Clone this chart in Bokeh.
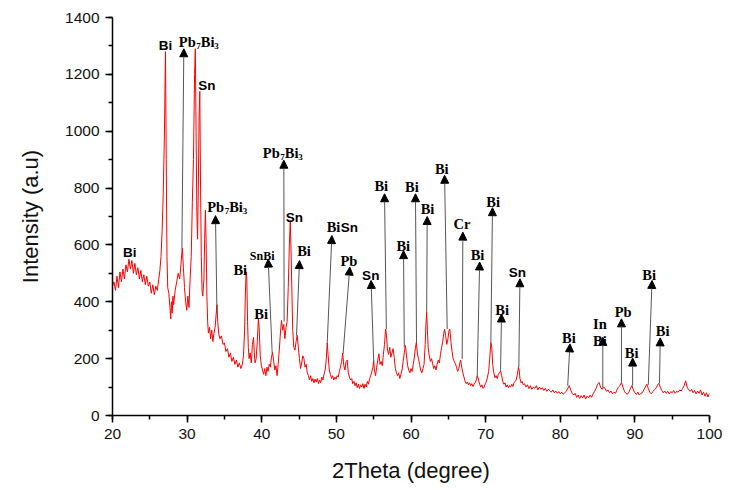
from bokeh.plotting import figure
from bokeh.models import Range1d, SingleIntervalTicker, ColumnDataSource, Arrow, NormalHead
from bokeh.core.properties import value
from bokeh.embed import file_html
from bokeh.resources import INLINE

# ---- XRD pattern (2theta in degrees, intensity in a.u.) ----
theta_a = [20.0, 20.2, 20.4, 20.6, 20.8, 21.0, 21.2, 21.4, 21.6, 21.8, 22.0, 22.2, 22.4, 22.6, 22.8, 23.0,
           23.2, 23.4, 23.6, 23.8, 24.0, 24.2, 24.4, 24.6, 24.8, 25.0, 25.2, 25.4, 25.6, 25.8, 26.0, 26.2]
counts_a = [455, 470, 440, 490, 450, 505, 470, 515, 480, 530, 505, 550, 515, 545, 500, 535,
            495, 520, 480, 510, 470, 495, 460, 490, 455, 470, 430, 460, 425, 455, 440, 480]

theta_b = [26.35, 26.5, 26.65, 26.8, 26.95, 27.1, 27.2, 27.3, 27.4, 27.55, 27.7, 27.8, 27.9, 28.0,
           28.1, 28.2, 28.4, 28.6, 28.8, 29.0, 29.2, 29.35, 29.5, 29.65, 29.8, 29.95, 30.1, 30.25]
counts_b = [510, 560, 650, 780, 980, 1280, 900, 560, 450, 430, 380, 340, 400, 360,
            420, 390, 440, 470, 500, 480, 540, 590, 520, 450, 400, 370, 420, 380]

theta_c = [30.4, 30.55, 30.7, 30.85, 31.0, 31.1, 31.2, 31.3, 31.4, 31.5, 31.6, 31.7, 31.8, 31.9, 32.0,
           32.1, 32.25, 32.35, 32.45, 32.55, 32.65, 32.75, 32.85, 33.0, 33.15, 33.3, 33.45, 33.6, 33.75, 33.9, 34.0]
counts_c = [480, 560, 750, 900, 1200, 1290, 1000, 720, 620, 800, 1050, 1140, 800, 560, 440,
            420, 480, 620, 722, 600, 420, 330, 290, 310, 270, 300, 260, 290, 310, 360, 390]

theta_d = [34.1, 34.25, 34.4, 34.6, 34.8, 35.0, 35.2, 35.4, 35.6, 35.8, 36.0, 36.2, 36.4,
           36.6, 36.8, 37.0, 37.2, 37.4, 37.55, 37.7, 37.8, 37.9, 38.0, 38.1, 38.2, 38.3]
counts_d = [330, 285, 270, 280, 250, 255, 225, 235, 205, 220, 190, 205, 180,
            195, 170, 185, 165, 180, 210, 300, 420, 505, 480, 330, 240, 200]

theta_e = [38.45, 38.6, 38.75, 38.9, 39.0, 39.1, 39.25, 39.4, 39.55, 39.65, 39.8, 39.95, 40.1,
           40.25, 40.4, 40.55, 40.7, 40.85, 41.0, 41.15, 41.3, 41.45, 41.6, 41.75, 41.9, 42.05,
           42.2, 42.35, 42.5, 42.65, 42.8, 42.95, 43.1, 43.25, 43.4, 43.55, 43.7, 43.82, 43.95]
counts_e = [220, 185, 250, 275, 220, 185, 200, 260, 340, 310, 210, 175, 160,
            145, 165, 140, 170, 155, 180, 170, 205, 222, 190, 160, 175, 140,
            180, 230, 290, 334, 300, 320, 270, 310, 330, 450, 600, 685, 550]

theta_f = [44.05, 44.15, 44.3, 44.45, 44.6, 44.75, 44.9, 45.05, 45.2, 45.35, 45.5, 45.65, 45.8, 45.95,
           46.1, 46.25, 46.4, 46.55, 46.7, 46.85, 47.0, 47.15, 47.3, 47.45, 47.6, 47.75, 47.9, 48.05,
           48.2, 48.35, 48.5, 48.65, 48.78, 48.9, 49.05, 49.2, 49.35, 49.5, 49.65, 49.8, 49.95]
counts_f = [420, 300, 240, 230, 260, 282, 240, 200, 165, 185, 210, 200, 170, 180,
            150, 140, 125, 140, 120, 130, 115, 128, 118, 130, 112, 125, 115, 135,
            125, 145, 160, 200, 255, 210, 160, 145, 130, 140, 125, 135, 128]

theta_g = [50.1, 50.25, 50.4, 50.55, 50.7, 50.85, 51.0, 51.15, 51.3, 51.45, 51.6, 51.75, 51.9, 52.05,
           52.2, 52.35, 52.5, 52.65, 52.8, 52.95, 53.1, 53.25, 53.4, 53.55, 53.7, 53.85, 54.0, 54.15,
           54.3, 54.45, 54.6, 54.75, 54.9, 55.0, 55.1, 55.25, 55.4, 55.55, 55.7, 55.85, 56.0]
counts_g = [140, 135, 155, 170, 190, 220, 175, 160, 190, 195, 150, 135, 125, 130,
            112, 120, 105, 115, 98, 110, 95, 108, 100, 112, 95, 110, 100, 120,
            110, 130, 140, 155, 170, 193, 160, 140, 170, 195, 217, 180, 190]

theta_h = [56.15, 56.3, 56.45, 56.6, 56.72, 56.85, 57.0, 57.15, 57.3, 57.45, 57.6, 57.75, 57.9, 58.05,
           58.2, 58.35, 58.5, 58.65, 58.8, 58.95, 59.1, 59.25, 59.4, 59.55, 59.7, 59.85, 60.0, 60.15,
           60.3, 60.45, 60.6, 60.72, 60.85, 61.0, 61.15, 61.3, 61.45, 61.6, 61.75, 61.9, 62.0]
counts_h = [175, 215, 250, 304, 280, 230, 215, 240, 205, 220, 235, 205, 165, 150,
            140, 150, 130, 145, 160, 190, 220, 246, 210, 175, 160, 150, 165, 155,
            180, 205, 240, 257, 220, 200, 180, 160, 150, 165, 180, 250, 320]

theta_i = [62.1, 62.2, 62.3, 62.45, 62.6, 62.75, 62.9, 63.05, 63.2, 63.35, 63.5, 63.65, 63.8, 63.95,
           64.1, 64.25, 64.4, 64.5, 64.65, 64.8, 64.95, 65.1, 65.2, 65.35, 65.5, 65.65, 65.8, 65.95,
           66.1, 66.25, 66.4, 66.55, 66.65, 66.8, 66.95, 67.1, 67.25, 67.4, 67.55, 67.7, 67.85, 68.0]
counts_i = [363, 300, 240, 210, 190, 200, 182, 165, 175, 160, 180, 195, 185, 215,
            240, 260, 290, 304, 280, 250, 270, 300, 304, 260, 225, 200, 190, 182,
            170, 155, 165, 185, 195, 170, 150, 135, 120, 112, 118, 108, 115, 105]

theta_j = [68.15, 68.3, 68.45, 68.6, 68.75, 68.9, 69.05, 69.2, 69.35, 69.5, 69.65, 69.8, 69.95, 70.1,
           70.25, 70.4, 70.55, 70.7, 70.82, 70.95, 71.1, 71.25, 71.4, 71.55, 71.7, 71.85, 72.0, 72.15,
           72.3, 72.45, 72.6, 72.75, 72.9, 73.05, 73.2, 73.35, 73.5, 73.65, 73.8, 73.95, 74.1, 74.25,
           74.4, 74.5, 74.6, 74.75, 74.9, 75.05, 75.2]
counts_j = [112, 102, 110, 115, 125, 140, 125, 110, 100, 108, 95, 100, 112, 120,
            135, 155, 200, 257, 240, 180, 150, 133, 140, 130, 145, 150, 158, 140,
            120, 110, 115, 100, 108, 98, 105, 100, 110, 102, 115, 120, 125, 145,
            170, 160, 130, 115, 120, 108, 112]

theta_k = [75.4, 75.6, 75.8, 76.0, 76.2, 76.4, 76.6, 76.8, 77.0, 77.2,
           77.4, 77.6, 77.8, 78.0, 78.2, 78.4, 78.6, 78.8, 79.0, 79.2,
           79.4, 79.6, 79.8, 80.0, 80.2, 80.4, 80.6, 80.8, 81.0, 81.2,
           81.4, 81.6, 81.8, 82.0, 82.2, 82.4, 82.6, 82.8, 83.0, 83.2,
           83.4, 83.6, 83.8, 84.0, 84.2, 84.4, 84.6, 84.8, 85.0, 85.2,
           85.4, 85.6, 85.8, 86.0, 86.2, 86.4, 86.6, 86.8, 87.0, 87.2,
           87.4, 87.6, 87.8, 88.0, 88.2, 88.4, 88.6, 88.8, 89.0, 89.2,
           89.4, 89.6, 89.8, 90.0, 90.2, 90.4, 90.6, 90.8, 91.0, 91.2,
           91.4, 91.6, 91.8, 92.0, 92.2, 92.4, 92.6, 92.8, 93.0, 93.2,
           93.4, 93.6, 93.8, 94.0, 94.2, 94.4, 94.6, 94.8, 95.0, 95.2,
           95.4, 95.6, 95.8, 96.0, 96.2, 96.4, 96.6, 96.8, 97.0, 97.2,
           97.4, 97.6, 97.8, 98.0, 98.2, 98.4, 98.6, 98.8, 99.0, 99.2,
           99.4, 99.6, 99.8, 100.0]
counts_k = [100, 108, 95, 105, 92, 100, 96, 105, 90, 100,
            92, 98, 88, 96, 85, 92, 88, 82, 90, 80,
            86, 78, 84, 76, 82, 75, 80, 85, 95, 105,
            90, 78, 72, 78, 64, 72, 60, 70, 62, 72,
            58, 68, 62, 72, 64, 76, 85, 95, 110, 116,
            100, 92, 100, 96, 85, 90, 80, 86, 76, 82,
            78, 90, 100, 105, 116, 100, 85, 78, 75, 82,
            95, 105, 90, 80, 74, 82, 72, 78, 80, 90,
            100, 110, 95, 82, 76, 84, 90, 95, 105, 113,
            100, 88, 80, 86, 78, 85, 76, 84, 80, 88,
            78, 85, 82, 90, 86, 95, 105, 122, 100, 90,
            85, 92, 80, 88, 76, 86, 78, 90, 72, 82,
            68, 80, 65, 78]

two_theta = (theta_a + theta_b + theta_c + theta_d + theta_e + theta_f + theta_g + theta_h
             + theta_i + theta_j + theta_k)
intensity = (counts_a + counts_b + counts_c + counts_d + counts_e + counts_f + counts_g + counts_h
             + counts_i + counts_j + counts_k)
assert len(two_theta) == len(intensity)

# ---- phase labels ----
sans_text = ["Bi", "Bi", "Sn", "Sn", "Sn", "Sn", "Sn"]
sans_x = [21.4, 26.2, 31.5, 43.2, 50.6, 53.45, 73.1]
sans_y = [557, 1285, 1144, 680, 645, 474, 484]

serif_text = ["Bi", "Bi", "Bi", "Bi", "Pb", "Bi", "Bi", "Bi", "Bi", "Bi", "Cr",
              "Bi", "Bi", "Bi", "Bi", "In", "Bi", "Pb", "Bi", "Bi", "Bi"]
serif_x = [36.2, 39.0, 44.75, 48.7, 50.55, 55.1, 58.05, 59.2, 61.3, 63.2, 65.7,
           68.0, 70.1, 71.3, 80.25, 84.4, 84.4, 87.3, 88.65, 91.0, 92.8]
serif_y = [495, 340, 560, 645, 527, 790, 580, 786, 708, 848, 657,
           548, 733, 355, 254, 305, 246, 348, 202, 478, 280]

small_text = ["SnBi"]
small_x = [38.4]
small_y = [545]

compound_x = [28.89, 32.69, 40.15]
compound_y = [1297, 715, 907]

arrow_x0 = [29.3, 34.0, 43.0, 41.4, 44.66, 48.77, 50.9, 55.0, 56.7, 59.1, 60.74, 62.1,
            64.85, 66.86, 68.87, 70.7, 72.0, 74.45, 81.0, 85.7, 88.2, 89.7, 91.8, 93.3]
arrow_y0 = [590, 357, 330, 217, 281, 252, 217, 191, 304, 240, 257, 363,
            304, 199, 134, 257, 158, 170, 105, 98, 116, 105, 108, 113]
arrow_x1 = [29.56, 33.8, 42.96, 40.86, 45.06, 49.4, 51.8, 54.65, 56.45, 59.0, 60.6, 62.17,
            64.5, 66.95, 69.2, 70.92, 72.13, 74.6, 81.3, 85.7, 88.2, 89.7, 92.3, 93.4]
arrow_y1 = [1290, 703, 898, 550, 545, 633, 522, 475, 780, 580, 780, 700,
            845, 645, 540, 731, 357, 481, 252, 275, 340, 202, 475, 273]

# ---- figure ----
p = figure(width=740, height=486, x_range=Range1d(20, 100), y_range=Range1d(0, 1400),
           output_backend="svg", toolbar_location=None,
           min_border_left=112, min_border_right=31, min_border_top=17, min_border_bottom=71)
p.outline_line_color = None
p.xgrid.grid_line_color = None
p.ygrid.grid_line_color = None
p.background_fill_color = "white"
p.border_fill_color = "white"

p.xaxis.ticker = SingleIntervalTicker(interval=10, num_minor_ticks=2)
p.yaxis.ticker = SingleIntervalTicker(interval=200, num_minor_ticks=2)
p.xaxis.axis_label = "2Theta (degree)"
p.yaxis.axis_label = "Intensity (a.u)"
for ax in (p.xaxis, p.yaxis):
    ax.axis_line_color = "black"
    ax.axis_line_width = 1.5
    ax.major_tick_line_color = "black"
    ax.minor_tick_line_color = "black"
    ax.major_tick_line_width = 1.5
    ax.minor_tick_line_width = 1.5
    ax.major_tick_in = 0
    ax.major_tick_out = 7
    ax.minor_tick_in = 0
    ax.minor_tick_out = 4
    ax.major_label_text_font = "Liberation Sans"
    ax.major_label_text_font_size = "15.5px"
    ax.major_label_text_color = "#111111"
    ax.major_label_standoff = 6
    ax.axis_label_text_font = "Liberation Sans"
    ax.axis_label_text_font_size = "22px"
    ax.axis_label_text_font_style = "normal"
    ax.axis_label_text_color = "#111111"
p.xaxis.axis_label_standoff = 16
p.yaxis.axis_label_standoff = 19

p.line(two_theta, intensity, line_color="#ff0000", line_width=1)

arrow_src = ColumnDataSource(dict(x0=arrow_x0, y0=arrow_y0, x1=arrow_x1, y1=arrow_y1))
p.add_layout(Arrow(end=NormalHead(size=8, fill_color="black", line_color="black", line_width=1),
                   x_start="x0", y_start="y0", x_end="x1", y_end="y1", source=arrow_src,
                   line_color="#555555", line_width=1))

lift = -5  # pixel shift so the label sits just above its arrow head
p.text(x=sans_x, y=sans_y, text=sans_text, y_offset=lift, text_font=value("Liberation Sans"),
       text_font_style="bold", text_font_size="13.5px", text_color="black",
       text_align="left", text_baseline="alphabetic")
p.text(x=serif_x, y=serif_y, text=serif_text, y_offset=lift, text_font=value("Liberation Serif"),
       text_font_style="bold", text_font_size="14.5px", text_color="black",
       text_align="left", text_baseline="alphabetic")
p.text(x=small_x, y=small_y, text=small_text, y_offset=lift, text_font=value("Liberation Serif"),
       text_font_style="bold", text_font_size="12px", text_color="black",
       text_align="left", text_baseline="alphabetic")

# Pb7Bi3 with subscripts, built from pieces
main_x, main_y, main_t, main_dx = [], [], [], []
sub_x, sub_y, sub_t, sub_dx = [], [], [], []
for cx, cy in zip(compound_x, compound_y):
    main_x += [cx, cx]; main_y += [cy, cy]; main_t += ["Pb", "Bi"]; main_dx += [0, 22]
    sub_x += [cx, cx]; sub_y += [cy, cy]; sub_t += ["7", "3"]; sub_dx += [17.5, 35.5]
p.text(x="x", y="y", text="t", x_offset="dx", y_offset=lift,
       source=ColumnDataSource(dict(x=main_x, y=main_y, t=main_t, dx=main_dx)),
       text_font=value("Liberation Serif"), text_font_style="bold", text_font_size="14.5px",
       text_color="black", text_align="left", text_baseline="alphabetic")
p.text(x="x", y="y", text="t", x_offset="dx", y_offset=lift + 4,
       source=ColumnDataSource(dict(x=sub_x, y=sub_y, t=sub_t, dx=sub_dx)),
       text_font=value("Liberation Serif"), text_font_style="bold", text_font_size="9px",
       text_color="black", text_align="left", text_baseline="alphabetic")

open("out.html", "w").write(file_html(p, INLINE))
